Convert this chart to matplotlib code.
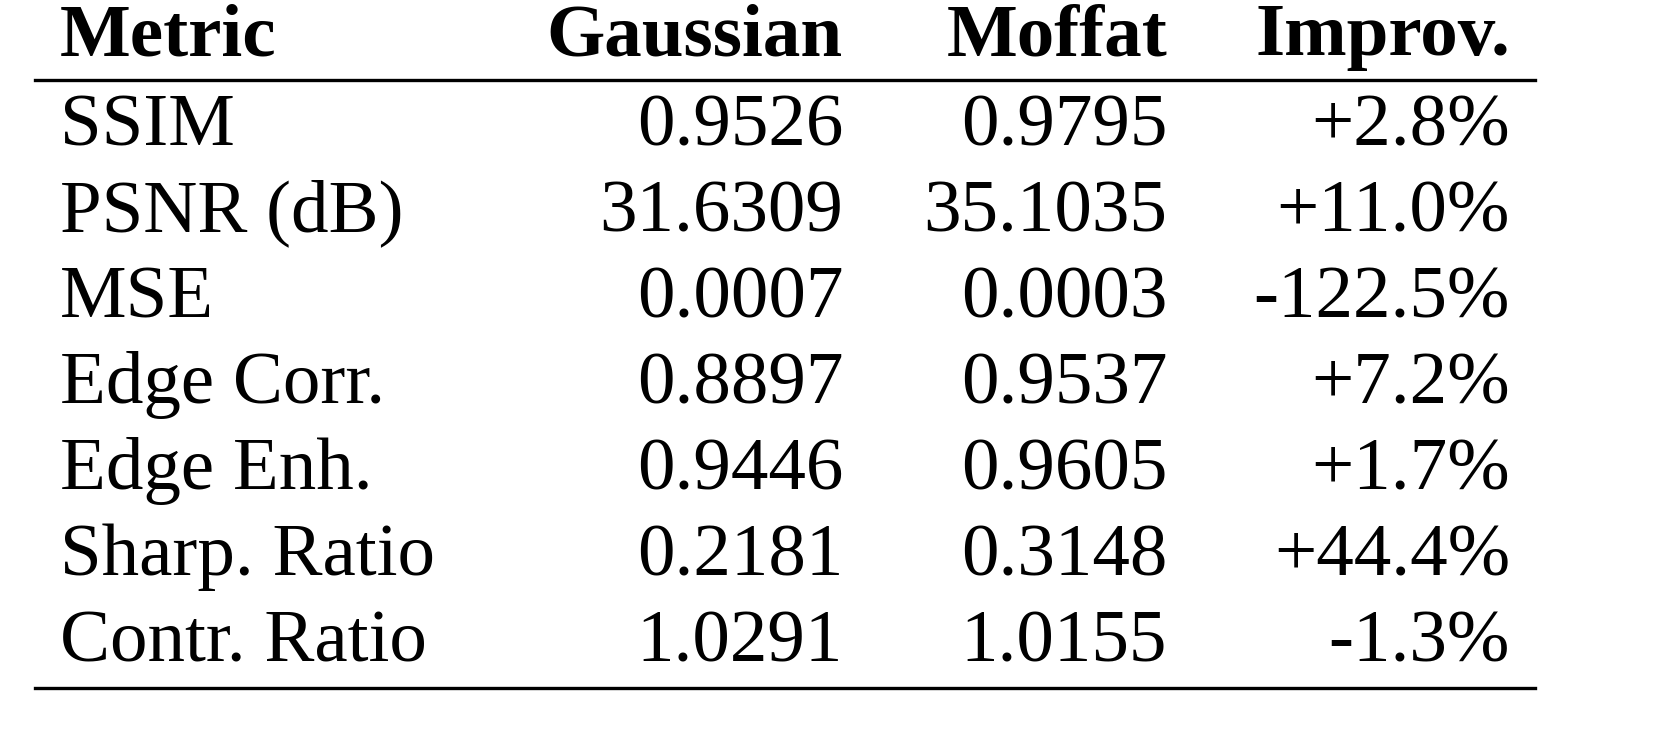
import matplotlib
matplotlib.use('Agg')
import matplotlib.pyplot as plt

# ---- Table data ----
headers = ['Metric', 'Gaussian', 'Moffat', 'Improv.']
metrics = ['SSIM', 'PSNR (dB)', 'MSE', 'Edge Corr.', 'Edge Enh.',
           'Sharp. Ratio', 'Contr. Ratio']
gaussian = ['0.9526', '31.6309', '0.0007', '0.8897', '0.9446', '0.2181', '1.0291']
moffat = ['0.9795', '35.1035', '0.0003', '0.9537', '0.9605', '0.3148', '1.0155']
improv = ['+2.8%', '+11.0%', '-122.5%', '+7.2%', '+1.7%', '+44.4%', '-1.3%']

W, H = 1655, 739
fig = plt.figure(figsize=(W / 100, H / 100), dpi=100)
ax = fig.add_axes([0, 0, 1, 1])
ax.set_xlim(0, W)
ax.set_ylim(H, 0)
ax.axis('off')

font = dict(family=['Liberation Serif', 'DejaVu Serif'], fontsize=54)
col_x = [60, 843, 1167, 1510]
aligns = ['left', 'right', 'right', 'right']

# header
for x, h, a in zip(col_x, headers, aligns):
    ax.text(x, 55, h, ha=a, va='baseline', fontweight='bold', **font)

ax.plot([35, 1535], [80, 80], color='black', lw=2.4)

row_y0, row_dy = 145, 86
for i, row in enumerate(zip(metrics, gaussian, moffat, improv)):
    y = row_y0 + i * row_dy
    for x, v, a in zip(col_x, row, aligns):
        ax.text(x, y, v, ha=a, va='baseline', **font)

ax.plot([35, 1535], [688, 688], color='black', lw=2.4)

plt.savefig('out.png', dpi=100)
